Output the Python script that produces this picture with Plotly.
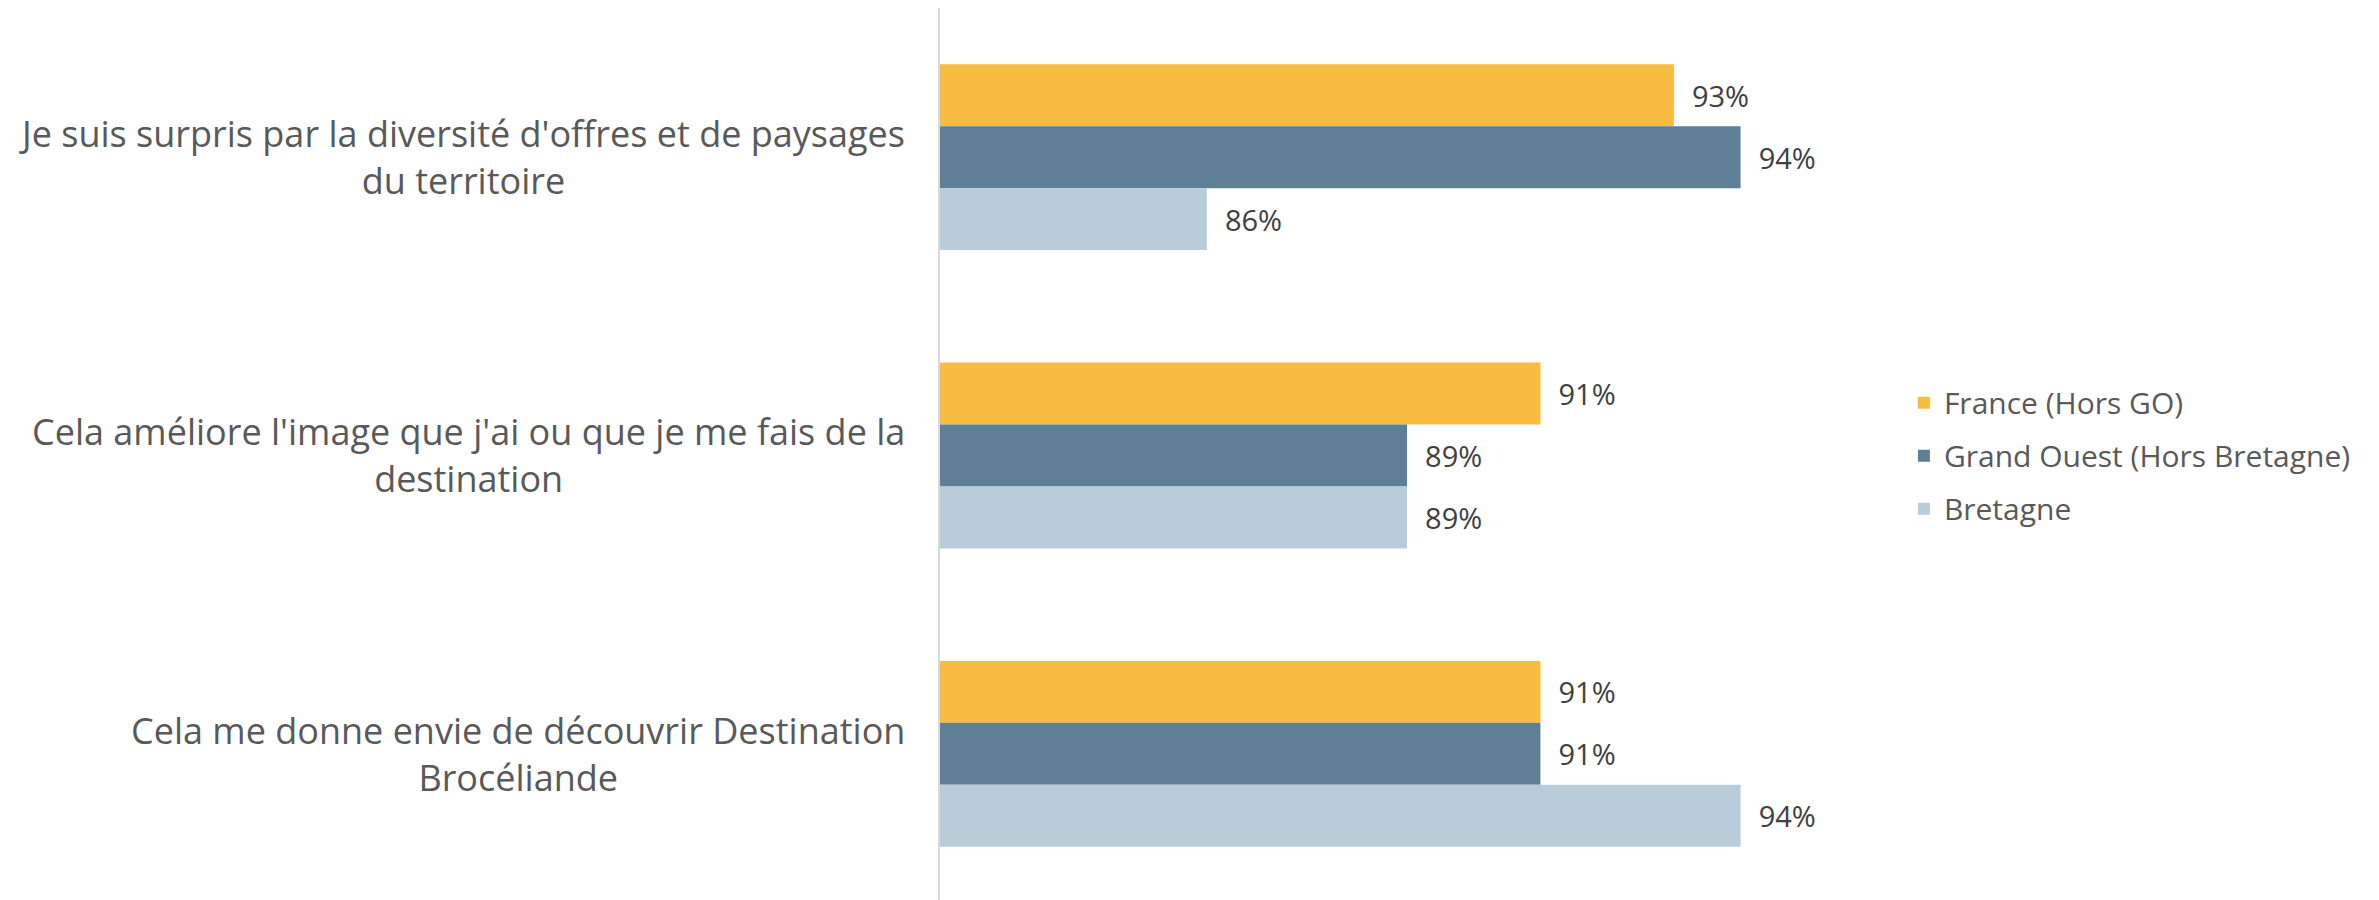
import plotly.graph_objects as go

# Statements (top to bottom) and survey results per region
statements = [
    "Je suis surpris par la diversité d'offres et de paysages<br>du territoire",
    "Cela améliore l'image que j'ai ou que je me fais de la<br>destination",
    "Cela me donne envie de découvrir Destination<br>Brocéliande",
]
france = [0.93, 0.91, 0.91]
grand_ouest = [0.94, 0.89, 0.91]
bretagne = [0.86, 0.89, 0.94]

series = [
    ("France (Hors GO)", france, "#F9BC42"),
    ("Grand Ouest (Hors Bretagne)", grand_ouest, "#5E7F95"),
    ("Bretagne", bretagne, "#B8CCD9"),
]

FONT = "'Open Sans', 'Noto Sans', sans-serif"

fig = go.Figure()
for name, vals, color in series:
    fig.add_trace(go.Bar(
        y=statements,
        x=vals,
        name=name,
        orientation="h",
        marker_color=color,
        marker_line_width=0,
        texttemplate="  %{x:.0%}",
        textposition="outside",
        textfont=dict(family=FONT, size=29, color="#404040"),
        cliponaxis=False,
        legendgroup=name,
        hoverinfo="skip",
    ))

# category labels as centred two-line annotations
for s in statements:
    fig.add_annotation(
        x=-0.0353, xref="paper", y=s, yref="y",
        text=s, showarrow=False,
        xanchor="right", yanchor="middle", align="center",
        font=dict(family=FONT, size=36, color="#595959"),
    )

# page body adds 8px margin, so the figure is 8px smaller than the window
fig.update_layout(
    width=2371,
    height=892,
    margin=dict(l=932, r=505, t=0, b=0),
    plot_bgcolor="white",
    paper_bgcolor="white",
    barmode="group",
    bargap=0.377,
    bargroupgap=0,
    showlegend=True,
    legend=dict(
        x=1.032, xanchor="left",
        y=0.498, yanchor="middle",
        traceorder="grouped",
        tracegroupgap=11,
        font=dict(family=FONT, size=30, color="#595959"),
    ),
)

fig.update_xaxes(range=[0.82, 0.96], showticklabels=False, showgrid=False,
                 zeroline=False, ticks="")
fig.update_yaxes(range=[2.49, -0.5], showticklabels=False, showgrid=False,
                 zeroline=False, ticks="", showline=True, linecolor="#D9D9D9",
                 linewidth=2)

fig.write_html("out.html")
